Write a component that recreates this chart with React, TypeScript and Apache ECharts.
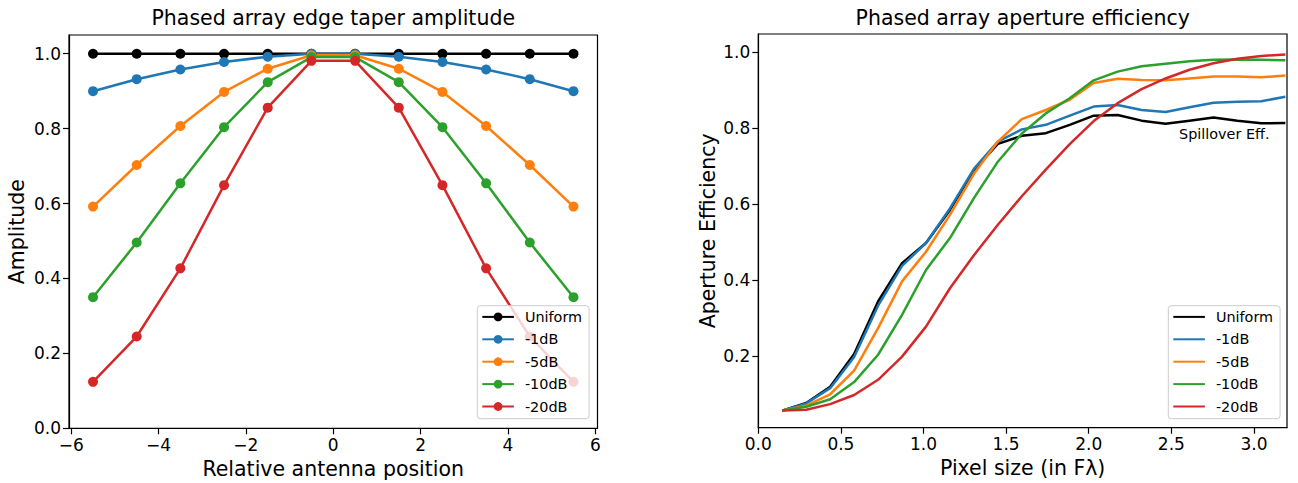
import React, { useEffect, useRef } from "react";
import * as echarts from "echarts";

// ---------- Data ----------
const seriesNames = ["Uniform", "-1dB", "-5dB", "-10dB", "-20dB"];
const seriesColors = ["#000000", "#1f77b4", "#ff7f0e", "#2ca02c", "#d62728"];

// Left: phased array edge taper amplitude
const antennaPositions = [-5.5, -4.5, -3.5, -2.5, -1.5, -0.5, 0.5, 1.5, 2.5, 3.5, 4.5, 5.5];
const taperUniform = [1, 1, 1, 1, 1, 1, 1, 1, 1, 1, 1, 1];
const taper1dB = [0.9, 0.932, 0.958, 0.978, 0.992, 1.0, 1.0, 0.992, 0.978, 0.958, 0.932, 0.9];
const taper5dB = [0.592, 0.703, 0.807, 0.898, 0.96, 0.996, 0.996, 0.96, 0.898, 0.807, 0.703, 0.592];
const taper10dB = [0.35, 0.496, 0.654, 0.804, 0.924, 0.991, 0.991, 0.924, 0.804, 0.654, 0.496, 0.35];
const taper20dB = [0.124, 0.245, 0.427, 0.649, 0.856, 0.981, 0.981, 0.856, 0.649, 0.427, 0.245, 0.124];

// Right: phased array aperture efficiency
const pixelSizes = [
  0.145, 0.29, 0.435, 0.58, 0.725, 0.87, 1.015, 1.16, 1.305, 1.45, 1.595,
  1.74, 1.885, 2.03, 2.175, 2.32, 2.465, 2.61, 2.755, 2.9, 3.045, 3.19,
];
const effUniform = [
  0.056, 0.076, 0.119, 0.205, 0.343, 0.444, 0.497, 0.584, 0.689, 0.758, 0.779,
  0.786, 0.808, 0.832, 0.834, 0.819, 0.811, 0.819, 0.827, 0.819, 0.812, 0.813,
];
const eff1dB = [
  0.056, 0.075, 0.115, 0.197, 0.332, 0.437, 0.497, 0.588, 0.692, 0.764, 0.796,
  0.808, 0.832, 0.856, 0.86, 0.847, 0.842, 0.854, 0.866, 0.869, 0.87, 0.882,
];
const eff5dB = [
  0.056, 0.069, 0.099, 0.161, 0.273, 0.396, 0.474, 0.571, 0.679, 0.764, 0.823,
  0.847, 0.874, 0.918, 0.929, 0.926, 0.925, 0.93, 0.935, 0.935, 0.933, 0.938,
];
const eff10dB = [
  0.056, 0.066, 0.086, 0.131, 0.203, 0.308, 0.426, 0.51, 0.615, 0.711, 0.785,
  0.838, 0.878, 0.925, 0.948, 0.962, 0.969, 0.975, 0.979, 0.98, 0.979, 0.978,
];
const eff20dB = [
  0.056, 0.058, 0.073, 0.097, 0.137, 0.198, 0.277, 0.378, 0.465, 0.545, 0.62,
  0.69, 0.757, 0.818, 0.865, 0.902, 0.93, 0.953, 0.97, 0.982, 0.989, 0.993,
];

const leftXTicks = [-6, -4, -2, 0, 2, 4, 6];
const leftYTicks = [0, 0.2, 0.4, 0.6, 0.8, 1.0];
const rightXTicks = [0, 0.5, 1.0, 1.5, 2.0, 2.5, 3.0];
const rightYTicks = [0.2, 0.4, 0.6, 0.8, 1.0];

const taperSets = [taperUniform, taper1dB, taper5dB, taper10dB, taper20dB];
const effSets = [effUniform, eff1dB, eff5dB, eff10dB, eff20dB];

// ---------- Styling ----------
const FONT = "DejaVu Sans";
const TICK_FS = 17;
const LABEL_FS = 20.5;
const LEGEND_FS = 14.4;

function valueAxis(opts: any) {
  return {
    type: "value",
    min: opts.min,
    max: opts.max,
    gridIndex: opts.gridIndex,
    name: opts.name,
    nameLocation: "middle",
    nameGap: opts.nameGap,
    nameTextStyle: { fontFamily: FONT, fontSize: LABEL_FS, color: "#000" },
    axisLine: { show: true, onZero: false, lineStyle: { color: "#000", width: 1.2 } },
    axisTick: {
      show: true,
      inside: false,
      length: 6,
      lineStyle: { color: "#000", width: 1.2 },
      customValues: opts.ticks,
    },
    axisLabel: {
      show: true,
      margin: 8,
      fontFamily: FONT,
      fontSize: TICK_FS,
      color: "#000",
      customValues: opts.ticks,
      formatter: opts.formatter,
    },
    splitLine: { show: false },
  };
}

const fmtInt = (v: number) => (v < 0 ? "\u2212" + Math.abs(v) : String(v));
const fmt1 = (v: number) => v.toFixed(1);

function legendBox(left: number, top: number, hideSymbol: boolean) {
  return {
    show: true,
    orient: "vertical",
    left,
    top,
    itemWidth: 31.6,
    itemHeight: 11,
    itemGap: 8,
    padding: [4, 7, 5, 4],
    backgroundColor: "rgba(255,255,255,0.8)",
    borderColor: "#cccccc",
    borderWidth: 1,
    borderRadius: 3,
    selectedMode: false,
    textStyle: {
      fontFamily: FONT,
      fontSize: LEGEND_FS,
      color: "#000",
      lineHeight: 14.4,
      padding: [0, 0, 0, 6],
    },
    data: seriesNames.map((n) =>
      hideSymbol ? { name: n, itemStyle: { opacity: 0 } } : { name: n }
    ),
  };
}

function buildOption() {
  const leftSeries = seriesNames.map((name, i) => ({
    type: "line",
    name,
    xAxisIndex: 0,
    yAxisIndex: 0,
    data: antennaPositions.map((x, j) => [x, taperSets[i][j]]),
    symbol: "circle",
    symbolSize: 10,
    showSymbol: true,
    lineStyle: { color: seriesColors[i], width: 2.5 },
    itemStyle: { color: seriesColors[i] },
    emphasis: { disabled: true },
    z: 2,
  }));
  const rightSeries = seriesNames.map((name, i) => ({
    type: "line",
    name,
    xAxisIndex: 1,
    yAxisIndex: 1,
    data: pixelSizes.map((x, j) => [x, effSets[i][j]]),
    symbol: "none",
    showSymbol: false,
    lineStyle: { color: seriesColors[i], width: 2.5 },
    itemStyle: { color: seriesColors[i] },
    emphasis: { disabled: true },
    z: 2,
  }));

  return {
    animation: false,
    backgroundColor: "#ffffff",
    textStyle: { fontFamily: FONT },
    title: [
      {
        text: "Phased array edge taper amplitude",
        left: 333.25,
        top: 7,
        textAlign: "center",
        padding: 0,
        textStyle: { fontFamily: FONT, fontSize: LABEL_FS, fontWeight: "normal", color: "#000" },
      },
      {
        text: "Phased array aperture efficiency",
        left: 1022.7,
        top: 7,
        textAlign: "center",
        padding: 0,
        textStyle: { fontFamily: FONT, fontSize: LABEL_FS, fontWeight: "normal", color: "#000" },
      },
    ],
    grid: [
      {
        left: 69,
        top: 35,
        width: 528.5,
        height: 393.3,
        containLabel: false,
        outerBoundsMode: "none",
        show: true,
        borderColor: "#000",
        borderWidth: 1.2,
        backgroundColor: "transparent",
      },
      {
        left: 758.3,
        top: 34,
        width: 528.7,
        height: 393.7,
        containLabel: false,
        outerBoundsMode: "none",
        show: true,
        borderColor: "#000",
        borderWidth: 1.2,
        backgroundColor: "transparent",
      },
    ],
    xAxis: [
      valueAxis({
        gridIndex: 0,
        min: -6.05,
        max: 6.05,
        ticks: leftXTicks,
        formatter: fmtInt,
        name: "Relative antenna position",
        nameGap: 27,
      }),
      valueAxis({
        gridIndex: 1,
        min: 0,
        max: 3.2,
        ticks: rightXTicks,
        formatter: fmt1,
        name: "Pixel size (in F\u03bb)",
        nameGap: 27,
      }),
    ],
    yAxis: [
      valueAxis({
        gridIndex: 0,
        min: 0,
        max: 1.05,
        ticks: leftYTicks,
        formatter: fmt1,
        name: "Amplitude",
        nameGap: 42,
      }),
      valueAxis({
        gridIndex: 1,
        min: 0.011,
        max: 1.047,
        ticks: rightYTicks,
        formatter: fmt1,
        name: "Aperture Efficiency",
        nameGap: 40,
      }),
    ],
    legend: [legendBox(477.3, 305.7, false), legendBox(1168.3, 305.7, true)],
    graphic: [
      {
        type: "text",
        x: 1179,
        y: 134,
        z: 10,
        style: {
          text: "Spillover Eff.",
          fontFamily: FONT,
          fontSize: LEGEND_FS,
          fill: "#000",
          verticalAlign: "middle",
          align: "left",
        },
      },
    ],
    series: [...leftSeries, ...rightSeries],
  };
}

export default function App() {
  const ref = useRef<HTMLDivElement>(null);
  useEffect(() => {
    if (!ref.current) return;
    const chart = echarts.init(ref.current, null, { renderer: "svg" });
    chart.setOption(buildOption() as any);
    return () => chart.dispose();
  }, []);
  return (
    <div
      ref={ref}
      style={{ position: "fixed", left: 0, top: 0, width: 1298, height: 483, background: "#fff" }}
    />
  );
}
